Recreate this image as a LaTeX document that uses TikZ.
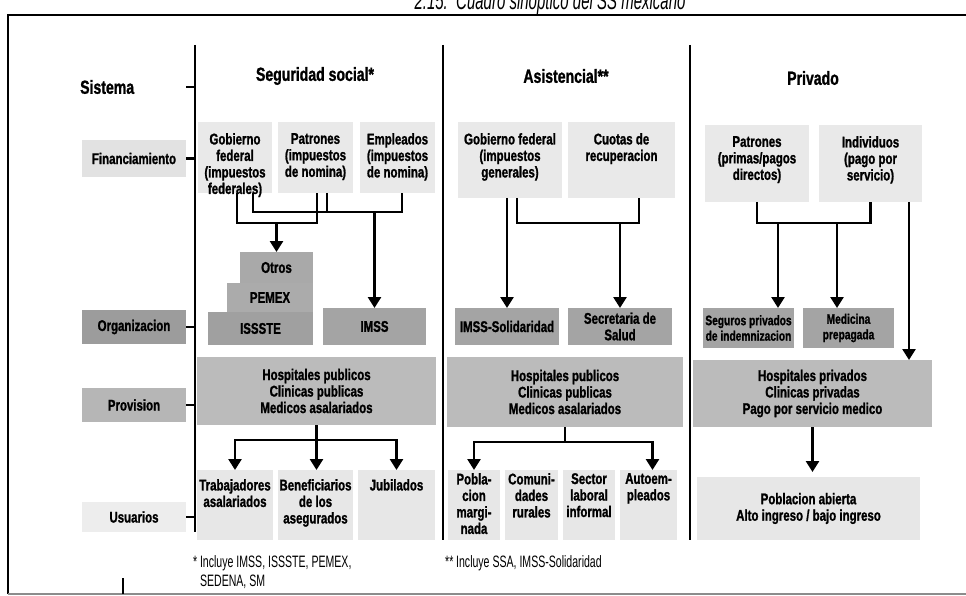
\documentclass[tikz,border=0pt]{standalone}
\usepackage{fontspec}
\setmainfont{Liberation Sans}[FakeStretch=0.74,BoldFeatures={FakeStretch=0.74,FakeBold=1.2}]
\newfontfamily\notefont{Liberation Sans}[FakeStretch=0.64]
\newfontfamily\ttlfont{Liberation Sans}[FakeStretch=0.6]
\usetikzlibrary{arrows.meta}
\definecolor{finc}{HTML}{E9E9E9}
\definecolor{orgc}{HTML}{A4A4A4}
\definecolor{provc}{HTML}{BBBBBB}
\definecolor{usrc}{HTML}{E7E7E7}
\definecolor{otrc}{HTML}{A9A9A9}
\definecolor{pemc}{HTML}{ABABAB}
\definecolor{issc}{HTML}{A0A0A0}
\definecolor{lfinc}{HTML}{E2E2E2}
\definecolor{lorgc}{HTML}{9C9C9C}
\definecolor{lprvc}{HTML}{B6B6B6}
\definecolor{lusrc}{HTML}{EDEDED}
\newcommand\mkbox[6]{\node[#2,minimum width={(#5-#3)*1pt},minimum height={(#6-#4)*1pt}] (#1) at ({(#3+#5)/2},{(#4+#6)/2}) {};}
\begin{document}
\begin{tikzpicture}[x=1pt,y=-1pt,
  bx/.style={draw=none,inner sep=0pt,outer sep=0pt},
  finb/.style={bx,fill=finc},
  usrb/.style={bx,fill=usrc},
  orgb/.style={bx,fill=orgc},
  prvb/.style={bx,fill=provc},
  txt/.style={align=center,inner sep=0pt,font=\fontsize{15.5}{16.5}\selectfont\bfseries},
  stxt/.style={align=center,inner sep=0pt,font=\fontsize{13.8}{15.5}\selectfont\bfseries},
  hdr/.style={inner sep=0pt,font=\fontsize{19}{22}\selectfont\bfseries},
  conn/.style={line width=2.6pt},
  arr/.style={line width=2.6pt,-{Triangle[width=13pt,length=11pt]}},
]
\useasboundingbox (0,0) rectangle (966,596);
\clip (0,0) rectangle (966,596);
\fill[white] (0,0) rectangle (966,596);

% title (cut at the top, as in the scan)
\node[anchor=base,inner sep=0pt,font=\ttlfont\itshape\fontsize{25}{28}\selectfont] (title) at (550,10) {2.15.\ \ Cuadro sinóptico del SS mexicano};

% frame
\coordinate (fA) at (8,594);
\coordinate (fB) at (8,15);
\coordinate (fC) at (985,15);
\coordinate (fD) at (985,594);
\draw[line width=2pt] (fA) -- (fB) -- (fC);
\draw[line width=2pt,black!45] (fA) -- (fD);
\coordinate (bt) at (123,578);
\draw[conn] (bt) -- (bt |- fA);

% spine and separators
\coordinate (sp1) at (195,45);
\coordinate (sp2) at (195,532);
\draw[conn] (sp1) -- (sp2);
\coordinate (s2a) at (443,45);
\coordinate (s2b) at (443,540);
\draw[conn] (s2a) -- (s2b);
\coordinate (s3a) at (690,45);
\coordinate (s3b) at (690,540);
\draw[conn] (s3a) -- (s3b);

% left labels
\node[hdr,anchor=west] (sis) at (80,87) {Sistema};
\coordinate (tks) at (186,87);
\draw[conn] (tks) -- (tks -| sp1);
\mkbox{lfin}{bx,fill=lfinc}{82}{140}{186}{177}
\node[txt] (lfint) at (lfin) {Financiamiento};
\mkbox{lorg}{bx,fill=lorgc}{82}{310}{186}{344}
\node[txt] (lorgt) at (lorg) {Organizacion};
\mkbox{lprv}{bx,fill=lprvc}{82}{388}{186}{422}
\node[txt] (lprvt) at (lprv) {Provision};
\mkbox{lusr}{bx,fill=lusrc}{82}{502}{186}{532}
\node[txt] (lusrt) at (lusr) {Usuarios};
\foreach \n in {lfin,lorg,lprv,lusr} {\draw[conn] (\n.east) -- (\n.east -| sp1);}

% headers
\node[hdr] (h1) at (315,76) {Seguridad social*};
\node[hdr] (h2) at (566,76) {Asistencial**};
\node[hdr] (h3) at (813,78) {Privado};

% ---------- column 1 ----------
\mkbox{g1}{finb}{198}{122}{272}{193}
\mkbox{p1}{finb}{278}{122}{353}{193}
\mkbox{e1}{finb}{360}{122}{435}{193}
\node[txt,anchor=north] (g1t) at ([yshift=-11pt]g1.north) {Gobierno\\federal\\(impuestos\\federales)};
\node[txt,anchor=north] (p1t) at ([yshift=-11pt]p1.north) {Patrones\\(impuestos\\de nomina)};
\node[txt,anchor=north] (e1t) at ([yshift=-11pt]e1.north) {Empleados\\(impuestos\\de nomina)};

\mkbox{iss}{bx,fill=issc}{208}{312}{313}{345}
\mkbox{pem}{bx,fill=pemc}{227}{283}{313}{312}
\mkbox{otr}{bx,fill=otrc}{240}{252}{313}{283}
\node[txt] (isst) at (iss) {ISSSTE};
\node[txt] (pemt) at (pem) {PEMEX};
\node[txt] (otrt) at (otr) {Otros};
\mkbox{ims}{orgb}{323}{308}{426}{345}
\node[txt] (imst) at (ims) {IMSS};

\mkbox{pv1}{prvb}{197}{357}{436}{425}
\node[txt] (pv1t) at (pv1) {Hospitales publicos\\Clinicas publicas\\Medicos asalariados};

\mkbox{u1a}{usrb}{197}{470}{273}{540}
\mkbox{u1b}{usrb}{278}{470}{353}{540}
\mkbox{u1c}{usrb}{358}{470}{435}{540}
\node[txt,anchor=north] (u1at) at ([yshift=-9pt]u1a.north) {Trabajadores\\asalariados};
\node[txt,anchor=north] (u1bt) at ([yshift=-9pt]u1b.north) {Beneficiarios\\de los\\asegurados};
\node[txt,anchor=north] (u1ct) at ([yshift=-9pt]u1c.north) {Jubilados};

\draw[conn] ([xshift=2pt]g1.south) -- ++(0,30) coordinate (ja) -| ([xshift=1.5pt]p1.south);
\draw[arr] (ja -| otr.north) -- (otr.north);
\draw[conn] ([xshift=18pt]g1.south) -- ++(0,19) coordinate (jb) -| ([xshift=4.5pt]e1.south);
\coordinate (p1b) at ([xshift=11.5pt]p1.south);
\draw[conn] (p1b) -- (p1b |- jb);
\draw[arr] (jb -| ims.north) -- (ims.north);

\draw[conn] (pv1.south) -- ++(0,15) coordinate (t1);
\draw[arr] (t1) -| (u1a.north);
\draw[arr] (t1) -- (t1 |- u1b.north);
\draw[arr] (t1) -| (u1c.north);

% ---------- column 2 ----------
\mkbox{g2}{finb}{458}{122}{562}{198}
\mkbox{c2}{finb}{568}{122}{675}{198}
\node[txt,anchor=north] (g2t) at ([yshift=-11pt]g2.north) {Gobierno federal\\(impuestos\\generales)};
\node[txt,anchor=north] (c2t) at ([yshift=-11pt]c2.north) {Cuotas de\\recuperacion};

\mkbox{isol}{orgb}{455}{308}{559}{345}
\mkbox{ssa}{orgb}{568}{308}{672}{345}
\node[txt] (isolt) at (isol) {IMSS-Solidaridad};
\node[txt] (ssat) at (ssa) {Secretaria de\\Salud};

\mkbox{pv2}{prvb}{447}{357}{683}{427}
\node[txt] (pv2t) at (pv2) {Hospitales publicos\\Clinicas publicas\\Medicos asalariados};

\mkbox{u2a}{usrb}{448}{470}{500}{540}
\mkbox{u2b}{usrb}{505}{470}{558}{540}
\mkbox{u2c}{usrb}{563}{470}{615}{540}
\mkbox{u2d}{usrb}{620}{470}{677}{540}
\node[txt,anchor=north] (u2at) at ([yshift=-3pt]u2a.north) {Pobla-\\cion\\margi-\\nada};
\node[txt,anchor=north] (u2bt) at ([yshift=-3pt]u2b.north) {Comuni-\\dades\\rurales};
\node[txt,anchor=north] (u2ct) at ([yshift=-3pt]u2c.north) {Sector\\laboral\\informal};
\node[txt,anchor=north] (u2dt) at ([yshift=-3pt]u2d.north) {Autoem-\\pleados};

\draw[arr] (isol.north |- g2.south) -- (isol.north);
\draw[conn] ([xshift=7pt]g2.south) -- ++(0,25) coordinate (jc) -| ([xshift=17.5pt]c2.south);
\draw[arr] (jc -| ssa.north) -- (ssa.north);

\draw[conn] (pv2.south) -- ++(0,15) coordinate (t2);
\draw[arr] (t2) -| (u2a.north);
\coordinate (u2dn) at ([xshift=4pt]u2d.north);
\draw[arr] (t2) -| (u2dn);

% ---------- column 3 ----------
\mkbox{pt3}{finb}{705}{125}{809}{202}
\mkbox{in3}{finb}{819}{125}{922}{202}
\node[txt,anchor=north] (pt3t) at ([yshift=-11pt]pt3.north) {Patrones\\(primas/pagos\\directos)};
\node[txt,anchor=north] (in3t) at ([yshift=-11pt]in3.north) {Individuos\\(pago por\\servicio)};

\mkbox{seg}{orgb}{703}{308}{794}{348}
\mkbox{med}{orgb}{803}{308}{894}{348}
\node[stxt] (segt) at (seg) {Seguros privados\\de indemnizacion};
\node[stxt] (medt) at (med) {Medicina\\prepagada};

\mkbox{pv3}{prvb}{693}{360}{932}{427}
\node[txt] (pv3t) at (pv3) {Hospitales privados\\Clinicas privadas\\Pago por servicio medico};

\mkbox{u3}{usrb}{697}{477}{920}{540}
\node[txt] (u3t) at (u3) {Poblacion abierta\\Alto ingreso / bajo ingreso};

\draw[conn] (pt3.south) -- ++(0,21) coordinate (jd) -| (in3.south);
\coordinate (j3a) at ([xshift=21pt]jd);
\coordinate (j3b) at ([xshift=80pt]jd);
\draw[arr] (j3a) -- (j3a |- seg.north);
\draw[arr] (j3b) -- (j3b |- med.north);
\coordinate (in3r) at ([xshift=38.5pt]in3.south);
\draw[arr] (in3r) -- (in3r |- pv3.north);
\draw[arr,shorten >=5pt] (pv3.south) -- (pv3.south |- u3.north);

% footnotes
\node[anchor=north west,align=left,inner sep=0pt,font=\notefont\fontsize{16.5}{19}\selectfont] (fn1) at (193,555) {*\,Incluye IMSS, ISSSTE, PEMEX,\\\phantom{*\,}SEDENA, SM};
\node[anchor=north west,align=left,inner sep=0pt,font=\notefont\fontsize{16.5}{19}\selectfont] (fn2) at (445,555) {**\,Incluye SSA, IMSS-Solidaridad};
\end{tikzpicture}
\end{document}
